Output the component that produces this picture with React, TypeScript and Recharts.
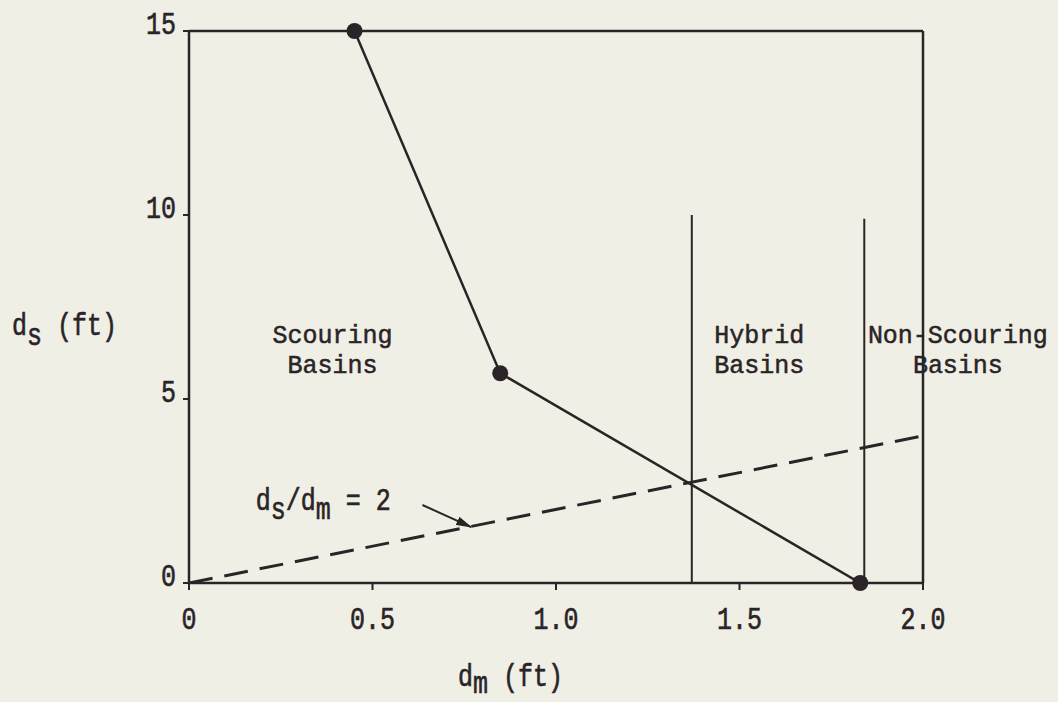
import React from 'react';
import {
  ComposedChart,
  Line,
  XAxis,
  YAxis,
  ReferenceLine,
  ReferenceDot,
} from 'recharts';

// axis ticks
const xTicks = [0, 0.5, 1.0, 1.5, 2.0];
const xTickLabels = ['0', '0.5', '1.0', '1.5', '2.0'];
const yTicks = [0, 5, 10, 15];
const yTickLabels = ['0', '5', '10', '15'];

// scour boundary (solid line with dots)
const boundaryDm = [0.451, 0.848, 1.829];
const boundaryDs = [15, 5.7, 0];

// ds/dm = 2 line (dashed)
const ratioDm = [0, 2.0];
const ratioDs = [0, 4.0];

// vertical dividers between basin types
const dividerDm = [1.37, 1.84];
const dividerTop = [10, 9.9];

// arrow pointing at the dashed line
const arrowDm = [0.636, 0.769];
const arrowDs = [2.12, 1.52];

// region labels
const regionNames = [
  ['Scouring', 'Basins'],
  ['Hybrid', 'Basins'],
  ['Non-Scouring', 'Basins'],
];
const regionDm = [0.391, 1.554, 2.095];
const regionDs = [6.52, 6.52, 6.52];

const FONT = '"Liberation Mono", "DejaVu Sans Mono", monospace';
const INK = '#2a2426';
const BG = '#f0efe6';
const FS = 25;
const STRETCH = 1.22;

const boundaryData = boundaryDm.map((x, i) => ({ x, y: boundaryDs[i] }));
const ratioData = ratioDm.map((x, i) => ({ x, y: ratioDs[i] }));
const arrowData = arrowDm.map((x, i) => ({ x, y: arrowDs[i] }));

const Txt = ({ x, y, anchor = 'start', stretch = STRETCH, children }: any) => (
  <g transform={`translate(${x},${y}) scale(1,${stretch})`}>
    <text
      x={0}
      y={0}
      textAnchor={anchor}
      fontFamily={FONT}
      fontSize={FS}
      fill={INK}
      stroke={INK}
      strokeWidth={0.5}
      style={{ whiteSpace: 'pre' }}
    >
      {children}
    </text>
  </g>
);

const XTick = ({ x, y, payload }: any) => {
  const i = xTicks.indexOf(payload.value);
  return (
    <Txt x={x} y={y + 39} anchor="middle">
      {xTickLabels[i]}
    </Txt>
  );
};

const YTick = ({ x, y, payload }: any) => {
  const i = yTicks.indexOf(payload.value);
  return (
    <Txt x={x} y={y + 3} anchor="end">
      {yTickLabels[i]}
    </Txt>
  );
};

// two-line label, 30px between baselines
const RegionLabel = (lines: string[]) => (props: any) => {
  const { cx, cy } = props;
  return (
    <g>
      {lines.map((t, k) => (
        <Txt key={k} x={cx} y={cy + k * 30} anchor="middle" stretch={1.05}>
          {t}
        </Txt>
      ))}
    </g>
  );
};

const RatioLabel = (props: any) => {
  const { cx, cy } = props;
  return (
    <Txt x={cx} y={cy}>
      <tspan>d</tspan>
      <tspan dy={7}>s</tspan>
      <tspan dy={-7}>/d</tspan>
      <tspan dy={7}>m</tspan>
      <tspan dy={-7}> = 2</tspan>
    </Txt>
  );
};

const YLabel = (props: any) => {
  const { viewBox } = props;
  return (
    <Txt x={viewBox.x + 12} y={viewBox.y + viewBox.height / 2 + 28}>
      <tspan>d</tspan>
      <tspan dy={8}>s</tspan>
      <tspan dy={-8}> (ft)</tspan>
    </Txt>
  );
};

const XLabel = (props: any) => {
  const { viewBox } = props;
  return (
    <Txt x={viewBox.x + 269} y={viewBox.y + 103}>
      <tspan>d</tspan>
      <tspan dy={6}>m</tspan>
      <tspan dy={-6}> (ft)</tspan>
    </Txt>
  );
};

export default function App() {
  return (
    <div
      style={{
        position: 'absolute',
        left: 0,
        top: 0,
        width: 1058,
        height: 702,
        background: BG,
      }}
    >
      <svg width={0} height={0} style={{ position: 'absolute' }}>
        <defs>
          <marker
            id="arrowHead"
            viewBox="0 0 16 9"
            refX={15}
            refY={4.5}
            markerWidth={16}
            markerHeight={9}
            markerUnits="userSpaceOnUse"
            orient="auto"
          >
            <path d="M0,0 L16,4.5 L0,9 z" fill={INK} />
          </marker>
        </defs>
      </svg>
      <ComposedChart
        width={1058}
        height={702}
        margin={{ top: 31, right: 135, bottom: 79, left: 0 }}
      >
        <XAxis
          type="number"
          dataKey="x"
          domain={[0, 2]}
          ticks={xTicks}
          allowDataOverflow
          height={40}
          axisLine={{ stroke: INK, strokeWidth: 2.5 }}
          tickLine={{ stroke: INK, strokeWidth: 2 }}
          tickSize={7}
          tickMargin={0}
          tick={<XTick />}
          label={<XLabel />}
        />
        <YAxis
          type="number"
          dataKey="y"
          domain={[0, 15]}
          ticks={yTicks}
          allowDataOverflow
          width={189}
          axisLine={{ stroke: INK, strokeWidth: 2.5 }}
          tickLine={{ stroke: INK, strokeWidth: 2 }}
          tickSize={6}
          tickMargin={7}
          tick={<YTick />}
          label={<YLabel />}
        />
        <ReferenceLine y={15} stroke={INK} strokeWidth={2.5} ifOverflow="visible" />
        <ReferenceLine x={2} stroke={INK} strokeWidth={2.5} ifOverflow="visible" />

        {dividerDm.map((d, i) => (
          <Line
            key={`div-${i}`}
            data={[
              { x: d, y: 0 },
              { x: d, y: dividerTop[i] },
            ]}
            dataKey="y"
            type="linear"
            stroke={INK}
            strokeWidth={2}
            dot={false}
            activeDot={false}
            isAnimationActive={false}
          />
        ))}

        <Line
          data={ratioData}
          dataKey="y"
          type="linear"
          stroke={INK}
          strokeWidth={3}
          strokeDasharray="24 12"
          dot={false}
          activeDot={false}
          isAnimationActive={false}
        />

        <Line
          data={boundaryData}
          dataKey="y"
          type="linear"
          stroke={INK}
          strokeWidth={2.5}
          dot={{ r: 8, fill: INK, stroke: INK, strokeWidth: 0, clipDot: false }}
          activeDot={false}
          isAnimationActive={false}
        />

        <Line
          data={arrowData}
          dataKey="y"
          type="linear"
          stroke={INK}
          strokeWidth={2}
          markerEnd="url(#arrowHead)"
          dot={false}
          activeDot={false}
          isAnimationActive={false}
        />

        {regionNames.map((lines, i) => (
          <ReferenceDot
            key={`reg-${i}`}
            x={regionDm[i]}
            y={regionDs[i]}
            r={1}
            ifOverflow="visible"
            shape={RegionLabel(lines)}
          />
        ))}

        <ReferenceDot
          x={0.182}
          y={1.98}
          r={1}
          ifOverflow="visible"
          shape={RatioLabel}
        />
      </ComposedChart>
    </div>
  );
}
